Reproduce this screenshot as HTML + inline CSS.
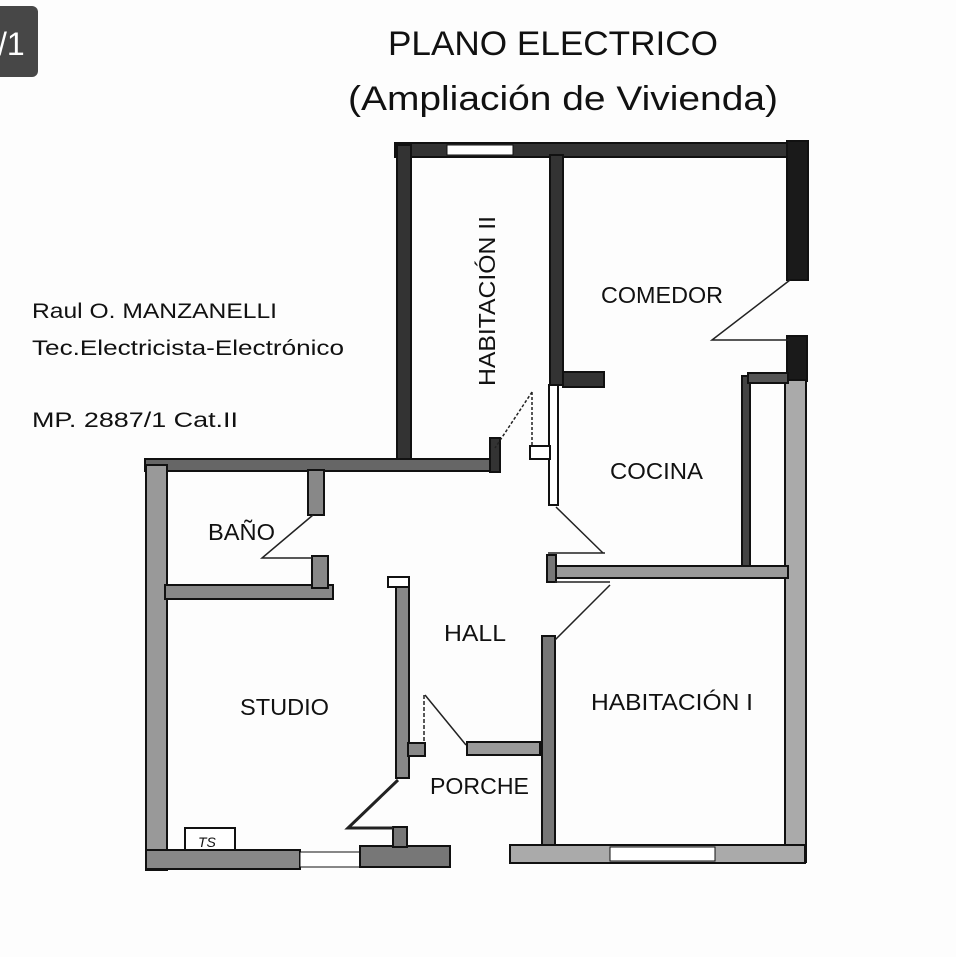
<!DOCTYPE html>
<html><head><meta charset="utf-8"><style>
html,body{margin:0;padding:0;background:#fff;}
svg{display:block}
text{font-family:"Liberation Sans",sans-serif;fill:#111}
</style></head><body>
<svg width="956" height="957" viewBox="0 0 956 957" xmlns="http://www.w3.org/2000/svg">
<rect width="956" height="957" fill="#fdfdfd"/>
<rect x="-8" y="6" width="46" height="71" rx="6" fill="#474747"/>
<text x="-2" y="55" font-size="32" style="fill:#fff">/1</text>

<text x="553" y="55" font-size="34" text-anchor="middle" textLength="330" lengthAdjust="spacingAndGlyphs">PLANO ELECTRICO</text>
<text x="563" y="110" font-size="34" text-anchor="middle" textLength="430" lengthAdjust="spacingAndGlyphs">(Ampliación de Vivienda)</text>

<text x="32" y="318" font-size="21" textLength="245" lengthAdjust="spacingAndGlyphs">Raul O. MANZANELLI</text>
<text x="32" y="355" font-size="21" textLength="312" lengthAdjust="spacingAndGlyphs">Tec.Electricista-Electrónico</text>
<text x="32" y="427" font-size="21" textLength="206" lengthAdjust="spacingAndGlyphs">MP. 2887/1  Cat.II</text>

<g stroke="#111" stroke-width="2">
<rect x="395" y="143" width="413" height="14" fill="#333"/>
<rect x="447" y="145" width="66" height="10" fill="#fff" stroke-width="1"/>
<rect x="787" y="141" width="21" height="139" fill="#1a1a1a"/>
<rect x="787" y="336" width="20" height="45" fill="#1a1a1a"/>
<rect x="785" y="380" width="21" height="482" fill="#aaa"/>
<rect x="742" y="376" width="8" height="190" fill="#444"/>
<rect x="748" y="373" width="40" height="10" fill="#555"/>
<rect x="397" y="145" width="14" height="315" fill="#333"/>
<rect x="550" y="155" width="13" height="230" fill="#333"/>
<rect x="549" y="385" width="9" height="120" fill="#fff"/>
<rect x="530" y="446" width="20" height="13" fill="#fff"/>
<rect x="563" y="372" width="41" height="15" fill="#333"/>
<rect x="145" y="459" width="348" height="12" fill="#666"/>
<rect x="490" y="438" width="10" height="34" fill="#333"/>
<rect x="146" y="465" width="21" height="405" fill="#999"/>
<rect x="146" y="850" width="154" height="19" fill="#888"/>
<rect x="300" y="852" width="60" height="15" fill="#fff" stroke-width="1"/>
<rect x="360" y="846" width="90" height="21" fill="#777"/>
<rect x="393" y="827" width="14" height="20" fill="#777"/>
<rect x="185" y="828" width="50" height="22" fill="#fff"/>
<rect x="308" y="470" width="16" height="45" fill="#888"/>
<rect x="165" y="585" width="168" height="14" fill="#888"/>
<rect x="312" y="556" width="16" height="32" fill="#888"/>
<rect x="396" y="578" width="13" height="200" fill="#888"/>
<rect x="388" y="577" width="21" height="10" fill="#fff"/>
<rect x="408" y="743" width="17" height="13" fill="#888"/>
<rect x="467" y="742" width="73" height="13" fill="#999"/>
<rect x="542" y="636" width="13" height="212" fill="#777"/>
<rect x="510" y="845" width="295" height="18" fill="#aaa"/>
<rect x="610" y="847" width="105" height="14" fill="#fff" stroke-width="1"/>
<rect x="550" y="566" width="238" height="12" fill="#999"/>
<rect x="547" y="555" width="9" height="27" fill="#777"/>
</g>
<text x="198" y="847" font-size="14" font-style="italic">TS</text>

<g stroke="#222" fill="none" stroke-width="1.5">
<polyline points="790,280 712,340 790,340"/>
<polyline points="313,515 262,558 312,558"/>
<polyline points="398,780 348,828 393,828" stroke-width="3"/>
<polyline points="532,392 495,448" stroke-dasharray="3 2"/>
<polyline points="532,392 532,445" stroke-dasharray="3 2"/>
<polyline points="556,507 603,553"/>
<polyline points="548,553 605,553"/>
<polyline points="610,585 555,640"/>
<polyline points="555,582 610,582"/>
<polyline points="425,695 466,745"/>
<polyline points="424,695 424,742" stroke-dasharray="4 2"/>
</g>

<g font-size="23">
<text x="601" y="303" textLength="122" lengthAdjust="spacingAndGlyphs">COMEDOR</text>
<text x="610" y="479" textLength="93" lengthAdjust="spacingAndGlyphs">COCINA</text>
<text x="208" y="540" textLength="67" lengthAdjust="spacingAndGlyphs">BAÑO</text>
<text x="444" y="641" textLength="62" lengthAdjust="spacingAndGlyphs">HALL</text>
<text x="240" y="715" textLength="89" lengthAdjust="spacingAndGlyphs">STUDIO</text>
<text x="430" y="794" textLength="99" lengthAdjust="spacingAndGlyphs">PORCHE</text>
<text x="591" y="710" textLength="162" lengthAdjust="spacingAndGlyphs">HABITACIÓN I</text>
<text transform="translate(495,386) rotate(-90)" textLength="170" lengthAdjust="spacingAndGlyphs">HABITACIÓN II</text>
</g>
</svg>
</body></html>
